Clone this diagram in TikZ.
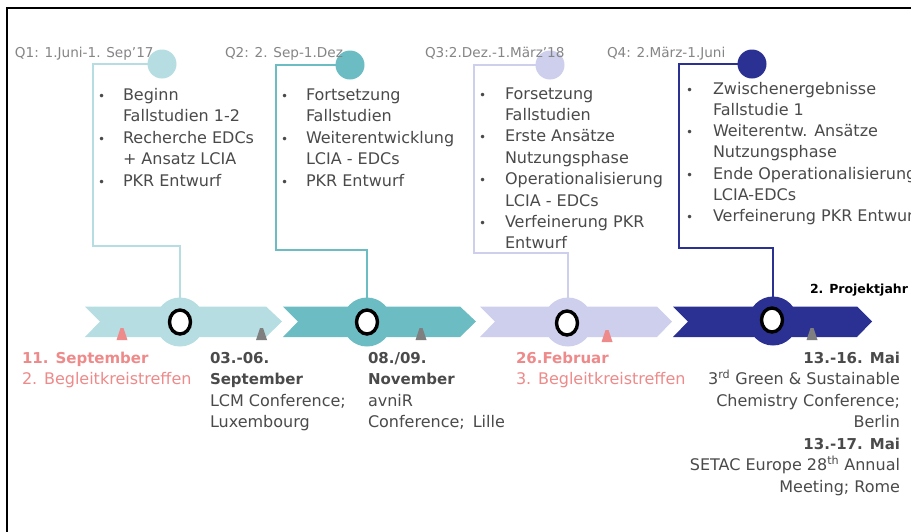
\documentclass[tikz,border=0pt]{standalone}
\usepackage{fontspec}
\setmainfont{DejaVu Sans}
\usetikzlibrary{shapes.geometric}
\definecolor{qone}{HTML}{B5DDE2}
\definecolor{qtwo}{HTML}{6CBDC3}
\definecolor{qthree}{HTML}{CDCFEC}
\definecolor{qfour}{HTML}{2B3192}
\definecolor{meet}{HTML}{EE8A8A}
\definecolor{conf}{HTML}{7F7F7F}
\definecolor{txt}{HTML}{4A4A4A}
\definecolor{lbl}{HTML}{858585}
\begin{document}
\begin{tikzpicture}[x=1pt,y=-1pt,
  every node/.style={inner sep=0pt, outer sep=0pt},
  item/.style={anchor=base west, font=\fontsize{16}{20}\selectfont, text=txt},
  dotmark/.style={anchor=base west, font=\fontsize{12}{20}\selectfont, text=txt},
  qlabel/.style={anchor=base west, font=\fontsize{13.6}{15}\selectfont, text=lbl},
  datebold/.style={font=\bfseries\fontsize{15}{20}\selectfont},
  noteline/.style={font=\fontsize{16}{20}\selectfont},
  bracket/.style={line width=2.5pt, line join=miter},
  topdot/.style={circle, minimum size=29pt},
  bigdot/.style={circle, minimum size=49pt},
  ring/.style={ellipse, draw=black, fill=white, line width=3.4pt, minimum width=21pt, minimum height=24pt},
]
\useasboundingbox (0,0) rectangle (911,531);
\clip (0,0) rectangle (911,531);
\fill[white] (0,0) rectangle (911,531);
% frame
\draw[line width=2pt] (7,600) -- (7,8) -- (1000,8);

% timeline chevrons
\fill[qone]   (85,306.5)  -- (266,306.5) -- (282,321.5) -- (266,337) -- (85,337)  -- (100,321.5) -- cycle;
\fill[qtwo]   (283,306.5) -- (460,306.5) -- (476,321.5) -- (460,337) -- (283,337) -- (298,321.5) -- cycle;
\fill[qthree] (480,306.5) -- (657,306.5) -- (672,321.5) -- (657,337) -- (480,337) -- (495,321.5) -- cycle;
\fill[qfour]  (673,306.5) -- (857,306.5) -- (872,321.5) -- (857,337) -- (673,337) -- (688,321.5) -- cycle;

% quarter markers on top and on the timeline
\node[topdot, fill=qone]   (t1) at (162,64) {};
\node[topdot, fill=qtwo]   (t2) at (350,65) {};
\node[topdot, fill=qthree] (t3) at (550,65) {};
\node[topdot, fill=qfour]  (t4) at (752,64) {};
\node[bigdot, fill=qone]   (b1) at (180,322) {};
\node[bigdot, fill=qtwo]   (b2) at (367,322) {};
\node[bigdot, fill=qthree] (b3) at (568,322) {};
\node[bigdot, fill=qfour]  (b4) at (773,321) {};

% brackets joining each quarter to the timeline
\draw[bracket, qone]   (t1.west) -- (93,64)  -- (93,246)  -| (b1.north);
\draw[bracket, qtwo]   (t2.west) -- (276,65) -- (276,250) -| (b2.north);
\draw[bracket, qthree] (t3.west) -- (474,65) -- (474,253) -| (b3.north);
\draw[bracket, qfour]  (t4.west) -- (679,64) -- (679,248) -| (b4.north);

\node[ring] (r1) at (180,322) {};
\node[ring] (r2) at (367,322) {};
\node[ring] (r3) at (567,323) {};
\node[ring] (r4) at (772,320) {};

% event markers
\fill[meet] (116.5,340) -- (120.5,328) -- (123.5,328) -- (127.5,340) -- cycle;
\fill[conf] (256,340) -- (260,328) -- (263,328) -- (267,340) -- cycle;
\fill[conf] (415.5,340) -- (419.5,328) -- (422.5,328) -- (426.5,340) -- cycle;
\fill[meet] (601.5,342) -- (605.5,330) -- (608.5,330) -- (612.5,342) -- cycle;
\fill[conf] (806.5,340) -- (810.5,328) -- (813.5,328) -- (817.5,340) -- cycle;

% quarter labels
\node[qlabel] (l1) at (15,57)  {Q1: 1.Juni-1. Sep’17};
\node[qlabel] (l2) at (225,57) {Q2: 2. Sep-1.Dez};
\node[qlabel] (l3) at (425,57) {Q3:2.Dez.-1.März’18};
\node[qlabel] (l4) at (607,57) {Q4: 2.März-1.Juni};

% work packages
\foreach \t [count=\i] in {Beginn, Fallstudien 1-2, Recherche EDCs, + Ansatz LCIA, PKR Entwurf}
  \node[item] (qa\i) at (123,{100+21.5*(\i-1)}) {\t};
\foreach \j in {1,3,5}
  \node[dotmark] (qab\j) at (98,{100+21.5*(\j-1)}) {•};

\foreach \t [count=\i] in {Fortsetzung, Fallstudien, Weiterentwicklung, LCIA - EDCs, PKR Entwurf}
  \node[item] (qb\i) at (306,{100+21.5*(\i-1)}) {\t};
\foreach \j in {1,3,5}
  \node[dotmark] (qbb\j) at (281,{100+21.5*(\j-1)}) {•};

\foreach \t [count=\i] in {Forsetzung, Fallstudien, Erste Ansätze, Nutzungsphase, Operationalisierung, LCIA - EDCs, Verfeinerung PKR, Entwurf}
  \node[item] (qc\i) at (505,{99+21.4*(\i-1)}) {\t};
\foreach \j in {1,3,5,7}
  \node[dotmark] (qcb\j) at (479,{99+21.4*(\j-1)}) {•};

\foreach \t [count=\i] in {Zwischenergebnisse, Fallstudie 1, Weiterentw. Ansätze, Nutzungsphase, Ende Operationalisierung, LCIA-EDCs, Verfeinerung PKR Entwurf}
  \node[item] (qd\i) at (713,{94+21.3*(\i-1)}) {\t};
\foreach \j in {1,3,5,7}
  \node[dotmark] (qdb\j) at (686,{94+21.3*(\j-1)}) {•};

\node[anchor=base west, font=\bfseries\fontsize{12.5}{15}\selectfont] (yr) at (810,293) {2. Projektjahr};

% events below the timeline
\node[datebold, text=meet, anchor=base west] (e1a) at (22,363)   {11. September};
\node[noteline, text=meet, anchor=base west] (e1b) at (22,384.5) {2. Begleitkreistreffen};

\node[datebold, text=txt, anchor=base west] (e2a) at (210,363)   {03.-06.};
\node[datebold, text=txt, anchor=base west] (e2b) at (210,384.5) {September};
\node[noteline, text=txt, anchor=base west] (e2c) at (210,406)   {LCM Conference;};
\node[noteline, text=txt, anchor=base west] (e2d) at (210,427.5) {Luxembourg};

\node[datebold, text=txt, anchor=base west] (e3a) at (368,363)   {08./09.};
\node[datebold, text=txt, anchor=base west] (e3b) at (368,384.5) {November};
\node[noteline, text=txt, anchor=base west] (e3c) at (368,406)   {avniR};
\node[noteline, text=txt, anchor=base west] (e3d) at (368,427.5) {Conference;\hspace{0.5em}Lille};

\node[datebold, text=meet, anchor=base west] (e4a) at (516,363)   {26.Februar};
\node[noteline, text=meet, anchor=base west] (e4b) at (516,384.5) {3. Begleitkreistreffen};

\node[datebold, text=txt, anchor=base east] (e5a) at (900,363)   {13.-16. Mai};
\node[noteline, text=txt, anchor=base east] (e5b) at (900,384.5) {3\textsuperscript{rd} Green \& Sustainable};
\node[noteline, text=txt, anchor=base east] (e5c) at (900,406)   {Chemistry Conference;};
\node[noteline, text=txt, anchor=base east] (e5d) at (900,427.5) {Berlin};
\node[datebold, text=txt, anchor=base east] (e5e) at (900,449)   {13.-17. Mai};
\node[noteline, text=txt, anchor=base east] (e5f) at (900,470.5) {SETAC Europe 28\textsuperscript{th} Annual};
\node[noteline, text=txt, anchor=base east] (e5g) at (900,492)   {Meeting; Rome};
\end{tikzpicture}
\end{document}
